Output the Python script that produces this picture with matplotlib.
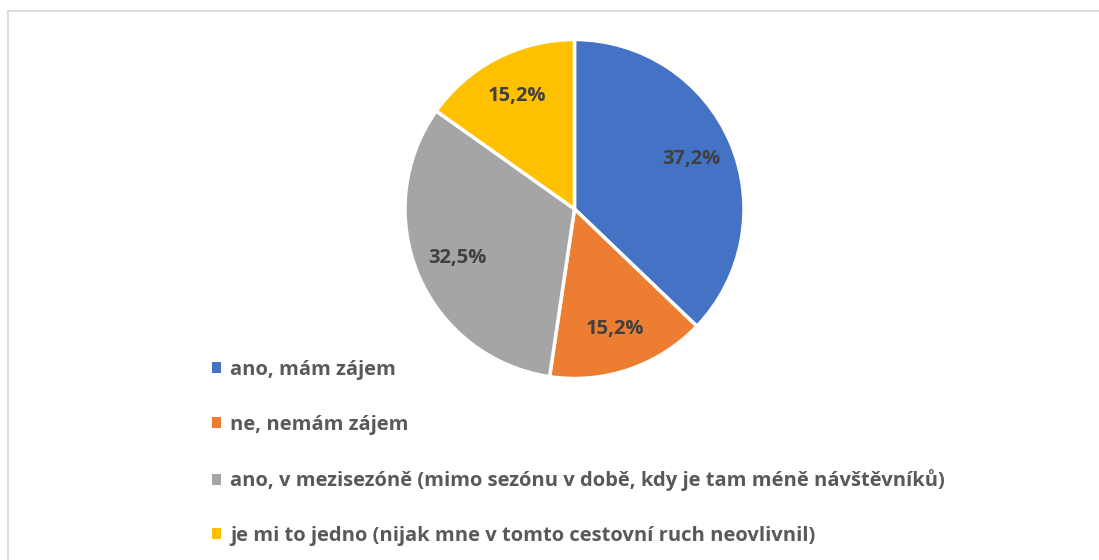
import matplotlib
matplotlib.use('Agg')
import matplotlib.pyplot as plt
from matplotlib.patches import Rectangle, Patch
import numpy as np

plt.rcParams['font.family'] = ['Open Sans', 'DejaVu Sans']

# survey answers and shares (%)
labels = ['ano, mám zájem',
          'ne, nemám zájem',
          'ano, v mezisezóně (mimo sezónu v době, kdy je tam méně návštěvníků)',
          'je mi to jedno (nijak mne v tomto cestovní ruch neovlivnil)']
shares = [37.2, 15.2, 32.5, 15.2]
colors = ['#4472C4', '#ED7D31', '#A5A5A5', '#FFC000']

W, H = 1099, 560
fig = plt.figure(figsize=(W / 100, H / 100), dpi=100)

# light chart-area border
fig.patches.append(Rectangle((8 / W, -0.05), 1.1, (H - 11) / H + 0.05,
                             transform=fig.transFigure, fill=False,
                             edgecolor='#D9D9D9', linewidth=1.3))

# pie: centre (574.5, 209) px, radius 169.5 px
r = 169.5
ax = fig.add_axes([(574.5 - r) / W, (H - 209 - r) / H, 2 * r / W, 2 * r / H])
wedges, _ = ax.pie(shares, colors=colors, startangle=90, counterclock=False,
                   radius=1.0, wedgeprops=dict(edgecolor='white', linewidth=2.5))
ax.set_xlim(-1, 1)
ax.set_ylim(-1, 1)
ax.set_aspect('auto')
ax.axis('off')

start = 90.0
for v in shares:
    mid = np.deg2rad(start - v * 3.6 / 2)
    start -= v * 3.6
    ax.text(0.75 * np.cos(mid), 0.75 * np.sin(mid),
            ('%.1f%%' % v).replace('.', ','), ha='center', va='center',
            fontsize=14.5, fontweight='bold', color='#404040')

handles = [Patch(facecolor=c, edgecolor='none') for c in colors]
leg = fig.legend(handles, labels, loc='upper left',
                 bbox_to_anchor=(212 / W, (H - 360) / H), frameon=False,
                 prop=dict(size=14.5, weight='bold'), labelspacing=1.72,
                 handlelength=0.45, handleheight=0.45, handletextpad=0.45,
                 borderpad=0, borderaxespad=0)
for t in leg.get_texts():
    t.set_color('#595959')

fig.savefig('out.png', dpi=100)
